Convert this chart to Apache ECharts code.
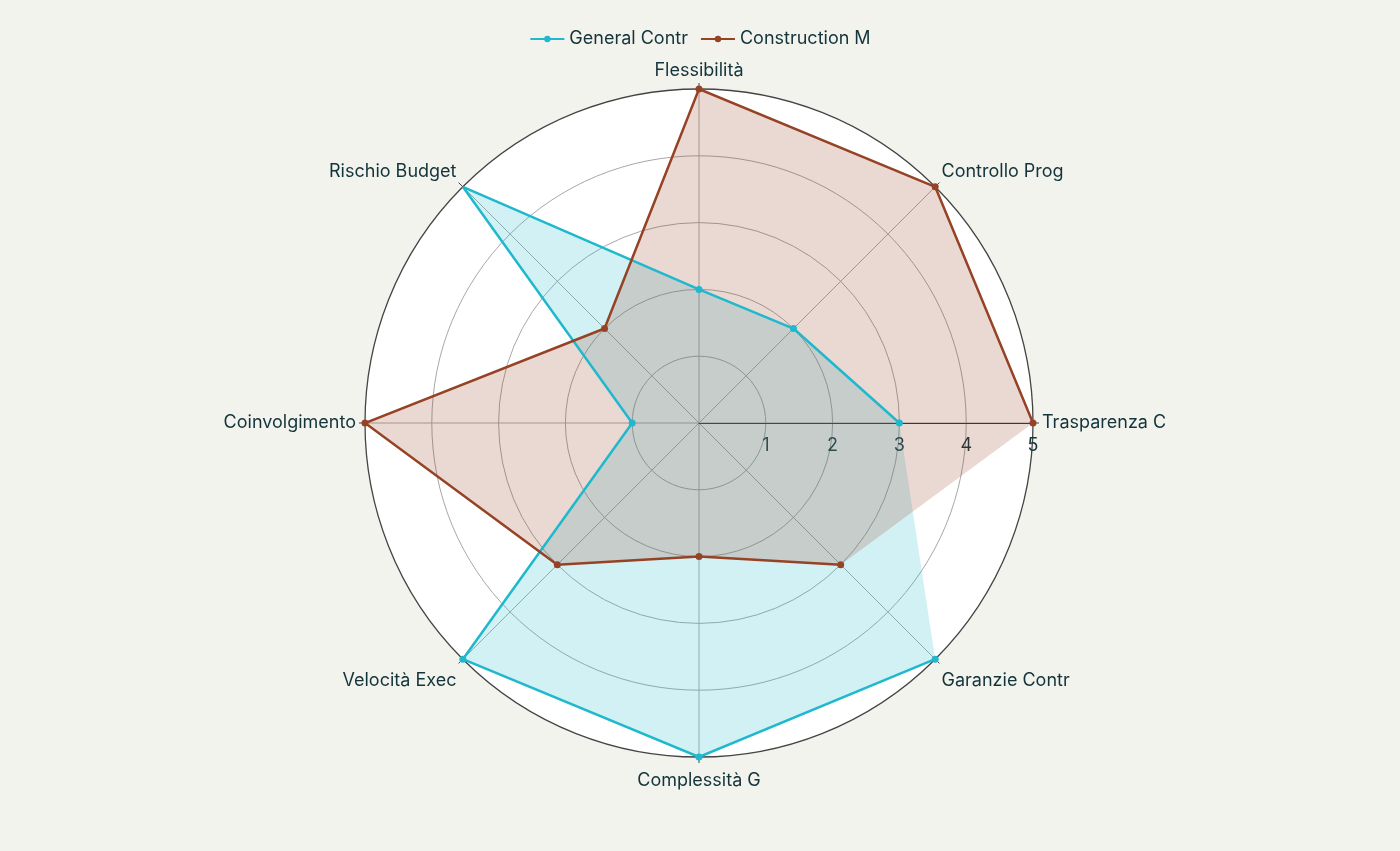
<!DOCTYPE html>
<html>
<head>
<meta charset="utf-8">
<title>Radar</title>
<script src="https://cdn.jsdelivr.net/npm/echarts@6/dist/echarts.min.js"></script>
<style>
html, body { margin: 0; padding: 0; background: #F3F3EE; }
#main { width: 1400px; height: 851px; }
</style>
</head>
<body>
<div id="main"></div>
<script>
// assi in senso antiorario partendo da destra
var categories = ['Trasparenza C', 'Controllo Prog', 'Flessibilità', 'Rischio Budget',
                  'Coinvolgimento', 'Velocità Exec', 'Complessità G', 'Garanzie Contr'];
var generalContr = [3, 2, 2, 5, 1, 5, 5, 5];
var constructionM = [5, 5, 5, 2, 5, 3, 2, 3];
var radialTicks = [1, 2, 3, 4, 5];

var step = 360 / categories.length;
var rMax = radialTicks[radialTicks.length - 1];
var textColor = '#13343B';
var font = 'Inter, "Noto Sans", sans-serif';

// [raggio, angolo]; la linea resta aperta, il riempimento si chiude
function toPoints(values, close) {
    var pts = values.map(function (v, i) { return [v, i * step]; });
    if (close) pts.push([values[0], 360]);
    return pts;
}

function lineSeries(name, values, color) {
    return {
        name: name,
        type: 'line',
        coordinateSystem: 'polar',
        polarIndex: 1,
        data: toPoints(values, false),
        symbol: 'circle',
        symbolSize: 7,
        itemStyle: { color: color },
        lineStyle: { color: color, width: 2.5 },
        z: 3,
        animation: false
    };
}

function fillSeries(name, values, color) {
    return {
        name: name + ' area',
        type: 'line',
        coordinateSystem: 'polar',
        polarIndex: 1,
        data: toPoints(values, true),
        showSymbol: false,
        silent: true,
        lineStyle: { width: 0, opacity: 0 },
        areaStyle: { color: color, opacity: 0.2 },
        z: 3,
        animation: false
    };
}

// cerchi interni grigi, quello esterno scuro (indice 0 = centro)
var ringColors = [0].concat(radialTicks).map(function (t) {
    return t === rMax ? 'rgba(0,0,0,0)' : '#a8a8a8';
});

var myChart = echarts.init(document.getElementById('main'));

var polarBox = { center: [699, 423], radius: 334 };

var option = {
    backgroundColor: '#F3F3EE',
    textStyle: { fontFamily: font },
    legend: {
        data: ['General Contr', 'Construction M'],
        top: 25,
        left: 'center',
        itemWidth: 34,
        itemHeight: 8,
        itemGap: 12,
        textStyle: { color: textColor, fontSize: 18, fontFamily: font }
    },
    // polare 0: solo sfondo bianco; polare 1: griglia, etichette e serie
    polar: [polarBox, polarBox],
    angleAxis: [
        {
            polarIndex: 0,
            type: 'value',
            min: 0, max: 360, interval: step,
            startAngle: 0, clockwise: false,
            z: 0,
            axisLine: { show: false },
            axisTick: { show: false },
            axisLabel: { show: false },
            splitLine: { show: false },
            splitArea: { show: true, areaStyle: { color: ['#ffffff'] } }
        },
        {
            polarIndex: 1,
            type: 'value',
            min: 0, max: 360, interval: step,
            startAngle: 0, clockwise: false,
            z: 1,
            axisLine: { show: true, lineStyle: { color: '#444', width: 1.3 } },
            axisTick: { show: true, length: 6, lineStyle: { color: '#444' } },
            axisLabel: {
                color: textColor,
                fontSize: 18,
                fontFamily: font,
                margin: 9,
                padding: [6, 0, 0, 0],
                formatter: function (v) {
                    var i = Math.round(v / step);
                    return i < categories.length ? categories[i] : '';
                }
            },
            splitLine: { show: true, lineStyle: { color: '#ababab', width: 1 } },
            splitArea: { show: false }
        }
    ],
    radiusAxis: [
        {
            polarIndex: 0,
            type: 'value',
            min: 0, max: rMax, interval: 1,
            z: 0,
            axisLine: { show: false },
            axisTick: { show: false },
            axisLabel: { show: false },
            splitLine: { show: false },
            splitArea: { show: false }
        },
        {
            polarIndex: 1,
            type: 'value',
            min: 0, max: rMax, interval: 1,
            z: 2,
            axisLine: { show: true, lineStyle: { color: '#333', width: 1 } },
            axisTick: { show: false },
            axisLabel: {
                color: textColor,
                fontSize: 18,
                fontFamily: font,
                margin: -14,
                verticalAlign: 'top',
                formatter: function (v) { return radialTicks.indexOf(v) >= 0 ? String(v) : ''; }
            },
            splitLine: { show: true, lineStyle: { color: ringColors, width: 1 } },
            splitArea: { show: false }
        }
    ],
    series: [
        fillSeries('General Contr', generalContr, '#1FB8CD'),
        lineSeries('General Contr', generalContr, '#1FB8CD'),
        fillSeries('Construction M', constructionM, '#964325'),
        lineSeries('Construction M', constructionM, '#964325')
    ]
};

myChart.setOption(option);
</script>
</body>
</html>
